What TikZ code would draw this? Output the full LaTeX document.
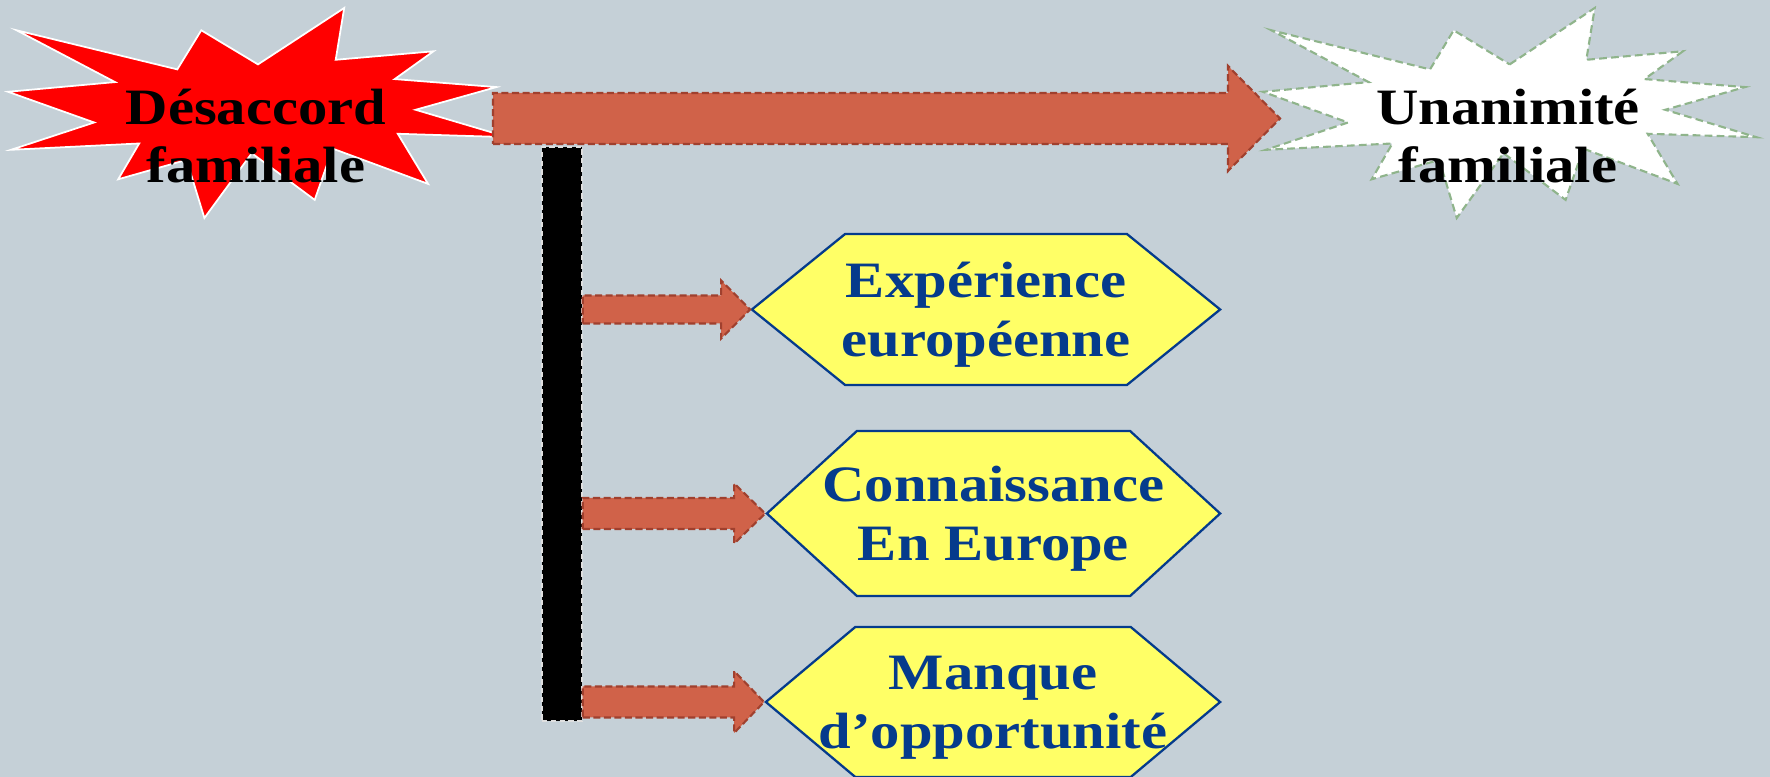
\documentclass[tikz,border=0pt]{standalone}
\usepackage{fontspec}
\setmainfont{Liberation Serif}[FakeStretch=1.15]
\usetikzlibrary{calc,shapes.symbols}

\definecolor{bggray}{HTML}{C5D0D7}
\definecolor{arrowred}{HTML}{D06249}
\definecolor{arrowedge}{HTML}{A0402E}
\definecolor{hexyellow}{HTML}{FFFF66}
\definecolor{hexblue}{HTML}{053B8C}
\definecolor{burstgreen}{HTML}{8FB48B}

\tikzset{
  burstred/.style={fill=red, draw=white, line width=0.5pt},
  burstwhite/.style={fill=white, draw=burstgreen, line width=0.6pt, dash pattern=on 2.2pt off 1.2pt},
  fat/.style={fill=arrowred, draw=arrowedge, line width=0.6pt, dash pattern=on 2pt off 1pt},
  trunk/.style={fill=black, draw=white!75!gray, line width=0.4pt, dash pattern=on 1.5pt off 1pt,
    minimum width=0.4cm, minimum height=5.74cm, inner sep=0pt},
  bigtext/.style={font=\bfseries\fontsize{14.5pt}{16.7pt}\selectfont, align=center, inner sep=0pt},
  hexbox/.style={bigtext, signal, signal to=west and east, fill=hexyellow, draw=hexblue,
    line width=0.65pt, text=hexblue, inner xsep=-0.4cm, text depth=0pt}
}

% explosion outline, in pixels of the slide
\newcommand{\burstshape}{(258,64.4) -- (344.2,8) -- (335.7,59.8) -- (433.5,51.3) -- (394.7,79.1)
  -- (496.4,87.1) -- (415.6,109.8) -- (508,137.2) -- (397.8,133.8) -- (428.1,183.9)
  -- (332.6,148.6) -- (314.7,199.9) -- (251.8,153.2) -- (204.4,218) -- (186.6,159.9)
  -- (118.2,179.3) -- (139.2,143.5) -- (11.1,149.8) -- (94.2,122.5) -- (8,91.8)
  -- (115.1,82.1) -- (16.6,30.3) -- (177.3,69.4) -- (201.3,30.3) -- cycle}

% block arrow: start, tip, half body, half head, head length
\newcommand{\fatarrow}[5]{%
  \draw[fat] ($(#1)+(0,#3)$) -- ($(#2)+(-#5,#3)$) -- ($(#2)+(-#5,#4)$) -- (#2)
    -- ($(#2)+(-#5,-#4)$) -- ($(#2)+(-#5,-#3)$) -- ($(#1)+(0,-#3)$) -- cycle;}

\begin{document}
\begin{tikzpicture}[x=0.01cm,y=-0.01cm]
\fill[bggray] (0,0) rectangle (1770,777);
\useasboundingbox (0,0) rectangle (1770,777);

% the two explosions
\draw[burstred] \burstshape;
\draw[burstwhite, shift={(1255,0)}, xscale=0.987] \burstshape;
\node[bigtext] (desac) at (256,136) {Désaccord\\familiale};
\node[bigtext] (unan) at (1508,136) {Unanimité\\familiale};

\coordinate (dstart) at (493,118.5);
\coordinate (utip) at (1280,118.5);
\fatarrow{dstart}{utip}{25.5}{52.5}{52}

% trunk and branches
\node[trunk] (bar) at (562,434) {};

\node[hexbox, signal pointer angle=78, minimum width=4.68cm, minimum height=1.51cm] (exp) at (986,309.5) {Expérience\\européenne};
\node[hexbox, signal pointer angle=85, minimum width=4.53cm, minimum height=1.65cm] (conn) at (993.5,513.5) {Connaissance\\En Europe};
\node[hexbox, signal pointer angle=80, minimum width=4.54cm, minimum height=1.50cm] (manq) at (993,702) {Manque\\d’opportunité};

\fatarrow{bar.east |- exp.west}{exp.west}{14}{29}{29}
\fatarrow{bar.east |- conn.west}{conn.west}{15.5}{30}{31}
\fatarrow{bar.east |- manq.west}{manq.west}{15.5}{31}{30}
\end{tikzpicture}
\end{document}
